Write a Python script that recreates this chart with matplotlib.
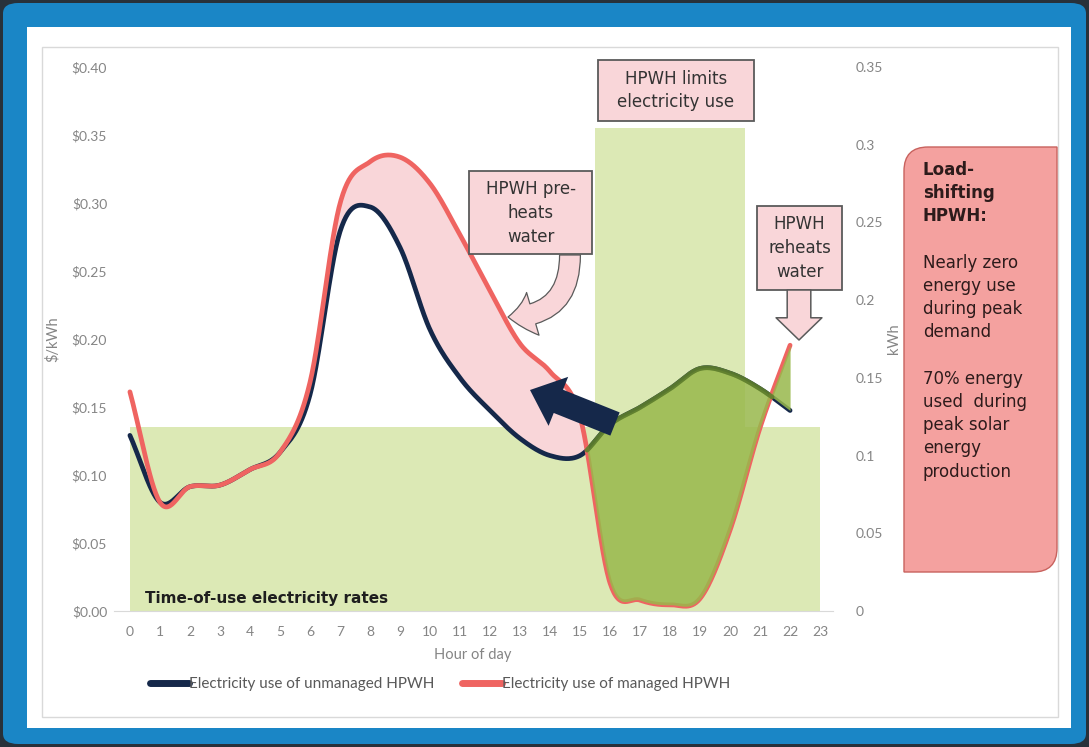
import numpy as np
import matplotlib
matplotlib.use("Agg")
import matplotlib.pyplot as plt
from matplotlib.patches import Rectangle, FancyBboxPatch, FancyArrowPatch, PathPatch
from matplotlib.path import Path
from matplotlib.lines import Line2D

plt.rcParams['font.family'] = ['Lato', 'DejaVu Sans']

# ── Data ──────────────────────────────────────────────────────────────────────
HOURS = list(range(24))
TOU_RATE = [0.135, 0.135, 0.135, 0.135, 0.135, 0.135, 0.135, 0.135,
            0.135, 0.135, 0.135, 0.135, 0.135, 0.135, 0.135, 0.135,
            0.355, 0.355, 0.355, 0.355, 0.355, 0.135, 0.135, 0.135]

LINE_HOURS = list(range(23))
UNMANAGED_KWH = [0.113, 0.070, 0.080, 0.081, 0.091, 0.102, 0.139, 0.244,
                 0.260, 0.234, 0.181, 0.150, 0.129, 0.111, 0.100, 0.100,
                 0.120, 0.131, 0.143, 0.156, 0.153, 0.143, 0.129]
MANAGED_KWH = [0.141, 0.070, 0.080, 0.081, 0.091, 0.102, 0.147, 0.262,
               0.289, 0.292, 0.275, 0.242, 0.206, 0.172, 0.154, 0.125,
               0.018, 0.007, 0.004, 0.008, 0.052, 0.118, 0.171]

RATE_TICKS = [0, 0.05, 0.10, 0.15, 0.20, 0.25, 0.30, 0.35, 0.40]
RATE_LABELS = ['$0.00', '$0.05', '$0.10', '$0.15', '$0.20', '$0.25',
               '$0.30', '$0.35', '$0.40']
KWH_TICKS = [0, 0.05, 0.10, 0.15, 0.20, 0.25, 0.30, 0.35]
KWH_LABELS = ['0', '0.05', '0.1', '0.15', '0.2', '0.25', '0.3', '0.35']

LEGEND_LABELS = ['Electricity use of unmanaged HPWH',
                 'Electricity use of managed HPWH']

# ── Style ─────────────────────────────────────────────────────────────────────
NAVY = '#15284a'
CORAL = '#ef6461'
TOU_GREEN = '#dce9b5'
OLIVE = '#98b84b'
OLIVE_EDGE = '#5f7f2c'
PINK = '#f9d6d9'
BOX_EDGE = '#5a5a5a'
TICK_GRAY = '#858585'
ANNOT_FONT = 'DejaVu Sans'

W, H = 1089, 747


def fx(x):
    return x / W


def fy(y):
    return 1 - y / H


def smooth(x, y, n=30):
    """Cubic Hermite curve through the points (Excel-style smoothed line)."""
    x = np.asarray(x, float)
    y = np.asarray(y, float)
    m = np.gradient(y, x)
    xs, ys = [], []
    t = np.linspace(0, 1, n, endpoint=False)
    for i in range(len(x) - 1):
        h = x[i + 1] - x[i]
        h00 = 2 * t**3 - 3 * t**2 + 1
        h10 = t**3 - 2 * t**2 + t
        h01 = -2 * t**3 + 3 * t**2
        h11 = t**3 - t**2
        ys.append(h00 * y[i] + h10 * h * m[i] + h01 * y[i + 1] + h11 * h * m[i + 1])
        xs.append(x[i] + t * h)
    xs.append([x[-1]])
    ys.append([y[-1]])
    return np.concatenate(xs), np.concatenate(ys)


# ── Figure + frame ────────────────────────────────────────────────────────────
fig = plt.figure(figsize=(W / 100, H / 100), dpi=100)
fig.patch.set_facecolor('#28313a')

fig.add_artist(FancyBboxPatch((fx(3), fy(744)), fx(1086) - fx(3), fy(3) - fy(744),
                              boxstyle='round,pad=0,rounding_size=0.014',
                              transform=fig.transFigure, fc='#1a86c6', ec='none',
                              zorder=-10))
fig.add_artist(Rectangle((fx(27), fy(728)), fx(1071) - fx(27), fy(27) - fy(728),
                         transform=fig.transFigure, fc='white', ec='none', zorder=-9))
fig.add_artist(Rectangle((fx(42), fy(717)), fx(1058) - fx(42), fy(47) - fy(717),
                         transform=fig.transFigure, fc='white', ec='#d9d9d9',
                         lw=1, zorder=-8))

# ── Rates (left axis) ─────────────────────────────────────────────────────────
ax = fig.add_axes([fx(114), fy(611), fx(833) - fx(114), fy(67) - fy(611)])
ax.set_facecolor('none')
ax.fill_between(HOURS, TOU_RATE, step='mid', color=TOU_GREEN, lw=0, zorder=1)
ax.set_xlim(-0.53, 23.43)
ax.set_ylim(0, 0.40)
ax.set_yticks(RATE_TICKS)
ax.set_yticklabels(RATE_LABELS)
ax.set_xticks(HOURS)
ax.set_xticklabels([str(h) for h in HOURS])
for side in ['top', 'left', 'right']:
    ax.spines[side].set_visible(False)
ax.spines['bottom'].set_color('#d9d9d9')
ax.tick_params(axis='both', length=0, colors=TICK_GRAY, labelsize=10)
ax.tick_params(axis='y', pad=5)
ax.tick_params(axis='x', pad=11)
ax.set_ylabel('$/kWh', fontsize=10.5, color=TICK_GRAY)
ax.yaxis.set_label_coords(-0.076, 0.5)

# ── Energy use (right axis) ───────────────────────────────────────────────────
ax2 = ax.twinx()
ax2.set_ylim(0, 0.35)
ax2.set_yticks(KWH_TICKS)
ax2.set_yticklabels(KWH_LABELS)
for side in ax2.spines:
    ax2.spines[side].set_visible(False)
ax2.tick_params(axis='y', length=0, colors=TICK_GRAY, labelsize=10, pad=16)
ax2.set_ylabel('kWh', fontsize=10.5, color=TICK_GRAY)
ax2.yaxis.set_label_coords(1.075, 0.5)

xs, navy_s = smooth(LINE_HOURS, UNMANAGED_KWH)
_, red_s = smooth(LINE_HOURS, MANAGED_KWH)
diff = red_s - navy_s
cross = xs[(xs > 14) & (diff <= 0)][0]
shifted = xs >= cross - 0.02

ax2.fill_between(xs, navy_s, red_s, where=(xs >= 6) & (xs <= cross) & (diff > 0),
                 interpolate=True, color=PINK, lw=0, zorder=1)
ax2.plot(xs, navy_s, color=NAVY, lw=3.4, solid_capstyle='round', zorder=2)
ax2.plot(xs, red_s, color=CORAL, lw=3.4, solid_capstyle='round', zorder=2)
ax2.fill_between(xs, navy_s, red_s, where=shifted, interpolate=True,
                 color=OLIVE, alpha=0.85, lw=0, zorder=3)
# the shaded load-shift region tints the unmanaged curve it covers
ax2.plot(xs[shifted & (xs <= 21.4)], navy_s[shifted & (xs <= 21.4)],
         color=OLIVE_EDGE, lw=3.4, alpha=0.9, solid_capstyle='round', zorder=4)

fig.text(fx(473), fy(655), 'Hour of day', ha='center', va='center',
         fontsize=10.5, color=TICK_GRAY)

handles = [Line2D([], [], color=NAVY, lw=5, solid_capstyle='round'),
           Line2D([], [], color=CORAL, lw=5, solid_capstyle='round')]
fig.legend(handles, LEGEND_LABELS, loc='center', bbox_to_anchor=(fx(440), fy(684)),
           ncol=2, frameon=False, handlelength=2.6, handletextpad=0.0,
           columnspacing=1.8, fontsize=11, labelcolor='#595959')

# ── Annotations ───────────────────────────────────────────────────────────────
fig.text(fx(145), fy(598), 'Time-of-use electricity rates', ha='left', va='center',
         fontsize=11, fontweight='bold', color='#1e1e1e', family=ANNOT_FONT)


def callout(x0, y0, x1, y1, lines, first_y, step):
    fig.add_artist(Rectangle((fx(x0), fy(y1)), fx(x1) - fx(x0), fy(y0) - fy(y1),
                             transform=fig.transFigure, fc=PINK, ec=BOX_EDGE,
                             lw=1.3, zorder=5))
    for i, line in enumerate(lines):
        fig.text(fx((x0 + x1) / 2), fy(first_y + i * step), line, ha='center',
                 va='center', fontsize=12, color='#333333', family=ANNOT_FONT,
                 zorder=6)


callout(598, 60, 754, 121, ['HPWH limits', 'electricity use'], 79, 23)
callout(469, 171, 592, 254, ['HPWH pre-', 'heats', 'water'], 189, 24)
callout(757, 206, 842, 290, ['HPWH', 'reheats', 'water'], 224, 24)

# curved arrow for the pre-heating period
fig.add_artist(FancyArrowPatch((fx(570), fy(255)), (fx(508), fy(317)),
                               transform=fig.transFigure,
                               connectionstyle='arc3,rad=-0.5',
                               arrowstyle='simple,head_length=18,head_width=32,tail_width=15',
                               mutation_scale=1, shrinkA=0, shrinkB=0,
                               fc=PINK, ec=BOX_EDGE, lw=0.9, zorder=5))
# block arrow under the reheat box
fig.add_artist(FancyArrowPatch((fx(799), fy(290)), (fx(799), fy(340)),
                               transform=fig.transFigure,
                               arrowstyle='simple,head_length=16,head_width=33,tail_width=17',
                               mutation_scale=1, shrinkA=0, shrinkB=0,
                               fc=PINK, ec=BOX_EDGE, lw=1.1, zorder=5))
# load shifted toward the morning
fig.add_artist(FancyArrowPatch((fx(615), fy(424)), (fx(530), fy(390)),
                               transform=fig.transFigure,
                               arrowstyle='simple,head_length=22,head_width=38,tail_width=18',
                               mutation_scale=1, shrinkA=0, shrinkB=0,
                               fc=NAVY, ec='none', zorder=5))

# side panel with rounded diagonal corners
x0, x1, yt, yb = fx(904), fx(1057), fy(147), fy(572)
rx, ry = 24 / W, 24 / H
verts = [(x0, yt - ry), (x0, yt), (x0 + rx, yt), (x1, yt), (x1, yb + ry),
         (x1, yb), (x1 - rx, yb), (x0, yb), (x0, yt - ry)]
codes = [Path.MOVETO, Path.CURVE3, Path.CURVE3, Path.LINETO, Path.LINETO,
         Path.CURVE3, Path.CURVE3, Path.LINETO, Path.CLOSEPOLY]
fig.add_artist(PathPatch(Path(verts, codes), transform=fig.transFigure,
                         fc='#f4a19f', ec='#c8625e', lw=1.0, zorder=5))

panel_lines = [('Load-', 'bold'), ('shifting', 'bold'), ('HPWH:', 'bold'),
               ('', 'normal'), ('Nearly zero', 'normal'), ('energy use', 'normal'),
               ('during peak', 'normal'), ('demand', 'normal'), ('', 'normal'),
               ('70% energy', 'normal'), ('used  during', 'normal'),
               ('peak solar', 'normal'), ('energy', 'normal'),
               ('production', 'normal')]
for i, (line, weight) in enumerate(panel_lines):
    if line:
        fig.text(fx(923), fy(170 + i * 23.2), line, ha='left', va='center',
                 fontsize=12, fontweight=weight, color='#2d1b1b',
                 family=ANNOT_FONT, zorder=6)

fig.savefig('out.png', dpi=100, facecolor=fig.get_facecolor())
